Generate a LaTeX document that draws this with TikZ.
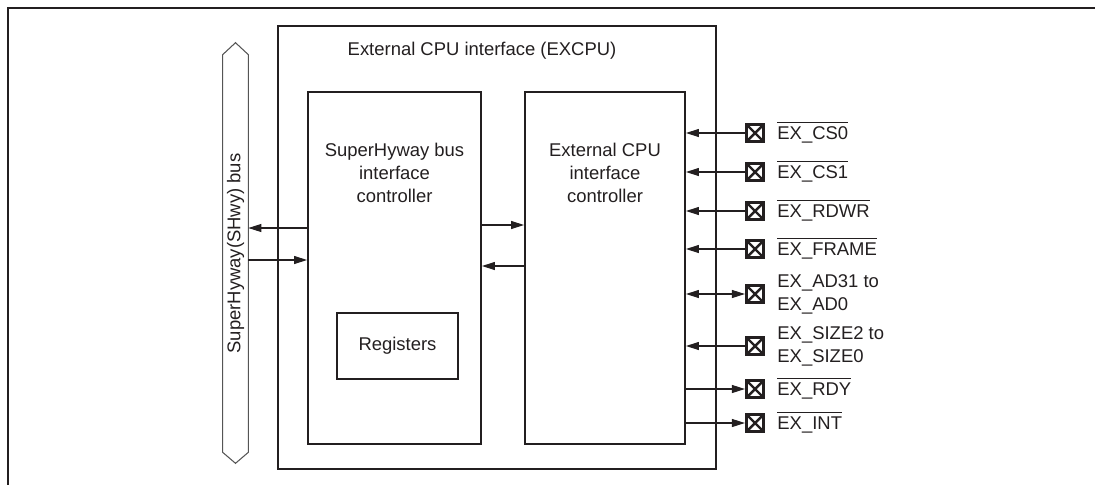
\documentclass[tikz,border=0pt]{standalone}
\usepackage{fontspec}
\setmainfont{Liberation Sans}
\usepackage{tikz}
\usetikzlibrary{positioning,arrows.meta}
\definecolor{Ink}{HTML}{231F20}
\definecolor{BusLine}{HTML}{555555}
\newcommand{\activelow}[1]{$\overline{\mbox{\rule{0pt}{8.6pt}#1}}$}

\begin{document}
\begin{tikzpicture}[
	x=0.02cm, y=-0.02cm,
	font=\fontsize{10.5}{13.1}\selectfont,
	text=Ink,
	>={Triangle[length=0.26cm,width=0.16cm]},
	block/.style={draw=Ink, line width=1.1pt, inner sep=0pt},
	pinbox/.style={
		draw=Ink, line width=1.8pt, minimum size=0.34cm, inner sep=0pt,
		path picture={
			\draw[Ink, line width=1.4pt]
			(path picture bounding box.north west) -- (path picture bounding box.south east)
			(path picture bounding box.north east) -- (path picture bounding box.south west);
		}
	},
	sig/.style={draw=Ink, line width=0.6pt},
	pinname/.style={inner sep=0pt, text height=0.27cm, text depth=0pt},
	pinnametwo/.style={inner sep=0pt, align=left}
	]
	
	\useasboundingbox (0,0) rectangle (1095,484);
	
	% ---------------------------------------------------------
	% FRAME
	% ---------------------------------------------------------
	
	\draw[Ink, line width=1.7pt] (1100,8) -- (8,8) -- (8,490);
	
	% ---------------------------------------------------------
	% SUPERHYWAY BUS
	% ---------------------------------------------------------
	
	\node[minimum width=0.5cm, minimum height=7.94cm, inner sep=0pt]
	(bus) at (235.5,253.5) {};
	
	\draw[BusLine, line width=0.6pt]
	(bus.south west) -- (bus.north west) -- ([yshift=0.24cm]bus.north)
	-- (bus.north east) -- (bus.south east) -- ([yshift=-0.22cm]bus.south) -- cycle;
	
	\node[rotate=90] (busname) at (bus) {SuperHyway(SHwy) bus};
	
	% ---------------------------------------------------------
	% EXCPU
	% ---------------------------------------------------------
	
	\node[
	block,
	line width=1.5pt,
	minimum width=8.76cm,
	minimum height=8.86cm
	]
	(excpu) at (497,247.5) {};
	
	\node[anchor=base] (title) at (482,55) {External CPU interface (EXCPU)};
	
	% ---------------------------------------------------------
	% CONTROLLERS
	% ---------------------------------------------------------
	
	\node[
	block,
	minimum width=3.46cm,
	minimum height=7.04cm
	]
	(shc) at (394.5,268) {};
	
	\node[inner sep=0pt, align=center, below=1.03cm of shc.north]
	(shcname) {SuperHyway bus\\interface\\controller};
	
	\node[
	block,
	minimum width=3.2cm,
	minimum height=7.04cm
	]
	(exc) at (605,268) {};
	
	\node[inner sep=0pt, align=center, below=1.03cm of exc.north]
	(excname) {External CPU\\interface\\controller};
	
	\node[
	block,
	minimum width=2.42cm,
	minimum height=1.32cm
	]
	(regs) at (397.5,346) {Registers};
	
	% ---------------------------------------------------------
	% PINS
	% ---------------------------------------------------------
	
	\node[pinbox] (pcsz) at (755,133) {};
	\node[pinname, right=0.24cm of pcsz] (lcsz) {\activelow{EX\_CS0}};
	
	\node[pinbox] (pcso) at (755,172) {};
	\node[pinname, right=0.24cm of pcso] (lcso) {\activelow{EX\_CS1}};
	
	\node[pinbox] (prdwr) at (755,211) {};
	\node[pinname, right=0.24cm of prdwr] (lrdwr) {\activelow{EX\_RDWR}};
	
	\node[pinbox] (pframe) at (755,249) {};
	\node[pinname, right=0.24cm of pframe] (lframe) {\activelow{EX\_FRAME}};
	
	\node[pinbox] (pad) at (755,294) {};
	\node[pinnametwo, right=0.24cm of pad] (lad) {EX\_AD31 to\\EX\_AD0};
	
	\node[pinbox] (psize) at (755,346) {};
	\node[pinnametwo, right=0.24cm of psize] (lsize) {EX\_SIZE2 to\\EX\_SIZE0};
	
	\node[pinbox] (prdy) at (755,389) {};
	\node[pinname, right=0.24cm of prdy] (lrdy) {\activelow{EX\_RDY}};
	
	\node[pinbox] (pint) at (755,423) {};
	\node[pinname, right=0.24cm of pint] (lint) {\activelow{EX\_INT}};
	
	% ---------------------------------------------------------
	% ARROWS
	% ---------------------------------------------------------
	
	\draw[sig, ->] (shc.west |- 0,228) -- (bus.east |- 0,228);
	\draw[sig, ->] (bus.east |- 0,260) -- (shc.west |- 0,260);
	
	\draw[sig, ->] (shc.east |- 0,225) -- (exc.west |- 0,225);
	\draw[sig, ->] (exc.west |- 0,266) -- (shc.east |- 0,266);
	
	\draw[sig, ->] (pcsz) -- (exc.east |- pcsz);
	\draw[sig, ->] (pcso) -- (exc.east |- pcso);
	\draw[sig, ->] (prdwr) -- (exc.east |- prdwr);
	\draw[sig, ->] (pframe) -- (exc.east |- pframe);
	\draw[sig, <->] (pad) -- (exc.east |- pad);
	\draw[sig, ->] (psize) -- (exc.east |- psize);
	\draw[sig, ->] (exc.east |- prdy) -- (prdy);
	\draw[sig, ->] (exc.east |- pint) -- (pint);
	
\end{tikzpicture}
\end{document}
